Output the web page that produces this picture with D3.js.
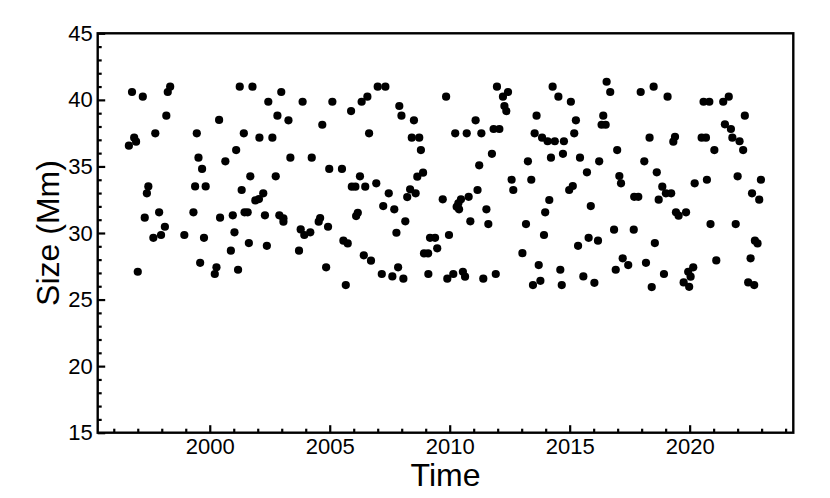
<!DOCTYPE html>
<html>
<head>
<meta charset="utf-8">
<script src="https://cdn.jsdelivr.net/npm/d3@7"></script>
<style>
  html, body { margin: 0; padding: 0; background: #fff; }
  svg { display: block; font-family: "Liberation Sans", Arial, Helvetica, sans-serif; }
</style>
</head>
<body>
<svg id="chart" width="830" height="498"></svg>
<script>
// ---- data ----
const years = [
  1996.76,1997.21,1998.35,1998.25,1998.19,1997.73,1996.85,1996.93,1996.63,1999.46,
  2000.39,1999.53,1999.68,1997.44,1997.38,1999.39,1999.83,1997.29,1997.89,1999.32,
  2000.43,1998.13,1997.65,1997.97,1998.94,1999.76,1999.60,1997.00,2000.28,2000.21,
  2001.25,2001.78,2002.98,2002.44,2003.87,2005.11,2002.82,2003.28,2004.69,2001.42,
  2002.07,2002.61,2001.10,2000.65,2003.36,2004.25,2004.98,2001.69,2002.75,2001.33,
  2002.23,2001.90,2002.05,2000.96,2001.45,2001.58,2002.30,2002.90,2003.07,2003.07,
  2004.60,2004.54,2004.93,2001.03,2003.79,2003.94,2004.19,2001.63,2002.38,2000.88,
  2003.72,2001.18,2004.85,
  2007.00,2007.32,2006.33,2006.57,2005.89,2007.90,2007.99,2008.51,2009.85,2006.64,
  2008.42,2008.73,2008.80,2005.51,2006.26,2005.92,2006.07,2006.48,2006.94,2007.46,
  2008.65,2008.89,2008.35,2008.58,2008.23,2009.71,2007.23,2007.69,2006.17,2006.10,
  2008.15,2007.78,2005.57,2005.75,2009.18,2009.39,2009.48,2008.93,2009.10,2009.97,
  2006.42,2006.72,2007.17,2007.61,2007.85,2008.07,2009.11,2009.90,2005.67,
  2011.97,2012.43,2012.22,2012.28,2012.36,2014.29,2014.53,2011.08,2013.62,2010.23,
  2010.71,2011.32,2011.83,2012.07,2013.54,2013.85,2014.08,2014.38,2014.76,2011.76,
  2011.23,2013.26,2014.22,2014.72,2012.58,2013.40,2012.65,2011.16,2010.79,2010.47,
  2010.36,2010.29,2010.39,2011.53,2014.15,2013.98,2010.86,2011.61,2013.18,2013.93,
  2013.03,2013.71,2014.61,2010.15,2010.55,2010.64,2011.40,2011.92,2013.78,2013.47,
  2014.67,
  2015.05,2016.54,2016.69,2017.96,2018.50,2019.08,2015.26,2016.40,2016.33,2016.50,
  2015.19,2018.33,2019.39,2019.32,2015.43,2016.98,2016.23,2018.11,2015.72,2018.63,
  2017.07,2017.14,2015.13,2014.98,2018.86,2019.01,2019.23,2018.71,2017.69,2017.86,
  2015.88,2019.43,2019.54,2016.85,2017.67,2015.79,2016.18,2015.35,2018.55,2017.21,
  2017.44,2018.18,2016.92,2015.57,2016.03,2018.93,2018.42,
  2020.58,2020.82,2021.40,2021.63,2022.30,2021.47,2021.72,2020.50,2020.68,2021.78,
  2022.08,2022.23,2021.03,2020.21,2020.72,2022.00,2022.97,2022.60,2022.90,2019.85,
  2020.87,2021.92,2022.72,2022.83,2021.11,2022.54,2020.15,2019.94,2020.04,2019.75,
  2019.98,2022.44,2022.69
];
const sizes = [
  40.59,40.24,40.99,40.59,38.81,37.49,37.16,36.86,36.56,37.49,
  38.49,35.66,34.81,33.50,32.98,33.50,33.50,31.15,31.55,31.55,
  31.15,30.47,29.64,29.85,29.85,29.64,27.76,27.09,27.42,26.92,
  40.99,40.99,40.59,39.86,39.86,39.86,38.81,38.46,38.13,37.49,
  37.16,37.16,36.23,35.38,35.66,35.66,34.81,34.26,34.26,33.23,
  32.98,32.45,32.55,31.33,31.55,31.55,31.33,31.33,31.10,30.85,
  31.12,30.85,30.47,30.05,30.27,29.85,30.05,29.24,29.04,28.67,
  28.67,27.24,27.42,
  40.99,40.99,39.86,40.24,39.16,39.54,38.81,38.46,40.24,37.49,
  37.16,37.16,36.23,34.81,34.26,33.48,33.48,33.48,33.73,32.98,
  34.23,34.53,33.28,32.98,32.70,32.53,32.02,31.78,31.52,31.27,
  30.88,30.02,29.42,29.22,29.64,29.64,28.85,28.47,28.47,29.85,
  28.32,27.92,26.92,26.74,27.42,26.57,26.92,26.57,26.09,
  40.99,40.59,40.24,39.54,39.16,40.99,40.24,38.46,38.81,37.49,
  37.49,37.49,37.81,37.81,37.49,37.16,36.89,36.89,36.89,35.95,
  35.08,35.38,35.66,35.95,34.00,34.00,33.23,33.23,32.72,32.53,
  32.23,31.97,31.78,31.78,32.48,31.55,30.88,30.67,30.67,29.85,
  28.49,27.59,27.24,26.92,27.09,26.72,26.57,26.92,26.41,26.09,
  26.09,
  39.86,41.36,40.59,40.59,40.99,40.24,38.46,38.81,38.13,38.13,
  37.49,37.16,37.23,36.86,35.66,36.23,35.38,35.38,34.56,34.56,
  34.28,33.73,33.53,33.23,33.48,32.98,32.98,32.50,32.72,32.72,
  32.02,31.55,31.30,30.25,30.25,29.64,29.42,29.04,29.24,28.10,
  27.59,27.76,27.24,26.74,26.26,26.92,25.94,
  39.86,39.86,39.86,40.24,38.81,38.16,37.81,37.16,37.16,37.16,
  36.89,36.23,36.23,33.73,34.00,34.26,34.00,32.98,32.50,31.55,
  30.67,30.67,29.42,29.22,27.94,28.10,27.42,27.09,26.72,26.29,
  25.96,26.29,26.09
];
const xDomain = [1995.33, 2024.32];
const yDomain = [15, 45];
const xMajorTicks = [2000, 2005, 2010, 2015, 2020];
const xMinorTicks = d3.range(1996, 2025, 1).filter(v => v % 5 !== 0);
const yMajorTicks = [15, 20, 25, 30, 35, 40, 45];
const yMinorTicks = d3.range(16, 45, 1).filter(v => v % 5 !== 0);
const xTitle = "Time";
const yTitle = "Size (Mm)";

// ---- layout ----
const L = 97.7, R = 793.3, T = 33.3, B = 432.7;
const svg = d3.select("#chart");
const x = d3.scaleLinear().domain(xDomain).range([L, R]);
const y = d3.scaleLinear().domain(yDomain).range([B, T]);

const tickFont = 22;

// x axis (ticks inward)
const gx = svg.append("g").attr("transform", `translate(0,${B})`);
gx.call(d3.axisBottom(x).tickValues(xMajorTicks).tickFormat(d3.format("d"))
    .tickSize(-7.5).tickPadding(6));
gx.append("g").call(d3.axisBottom(x).tickValues(xMinorTicks).tickFormat("").tickSize(-4));
gx.selectAll(".domain").remove();
gx.selectAll("line").attr("stroke", "#000").attr("stroke-width", 2.2);
gx.selectAll("text").attr("font-size", tickFont).attr("fill", "#000")
  .attr("font-family", '"Liberation Sans", Arial, sans-serif');

// y axis (ticks inward)
const gy = svg.append("g").attr("transform", `translate(${L},0)`);
gy.call(d3.axisLeft(y).tickValues(yMajorTicks).tickFormat(d3.format("d"))
    .tickSize(-7.5).tickPadding(5));
gy.append("g").call(d3.axisLeft(y).tickValues(yMinorTicks).tickFormat("").tickSize(-4));
gy.selectAll(".domain").remove();
gy.selectAll("line").attr("stroke", "#000").attr("stroke-width", 2.2);
gy.selectAll("text").attr("font-size", tickFont).attr("fill", "#000")
  .attr("font-family", '"Liberation Sans", Arial, sans-serif');

// frame
svg.append("rect")
  .attr("x", L).attr("y", T).attr("width", R - L).attr("height", B - T)
  .attr("fill", "none").attr("stroke", "#000").attr("stroke-width", 2.4);

// points
svg.append("g").selectAll("circle")
  .data(d3.zip(years, sizes))
  .join("circle")
  .attr("cx", d => x(d[0]))
  .attr("cy", d => y(d[1]))
  .attr("r", 4.1)
  .attr("fill", "#000");

// titles
svg.append("text")
  .attr("x", (L + R) / 2).attr("y", 486)
  .attr("text-anchor", "middle")
  .attr("font-size", 32).attr("fill", "#000")
  .text(xTitle);

svg.append("text")
  .attr("transform", `translate(59,${(T + B) / 2}) rotate(-90)`)
  .attr("text-anchor", "middle")
  .attr("font-size", 32).attr("fill", "#000")
  .text(yTitle);
</script>
</body>
</html>
